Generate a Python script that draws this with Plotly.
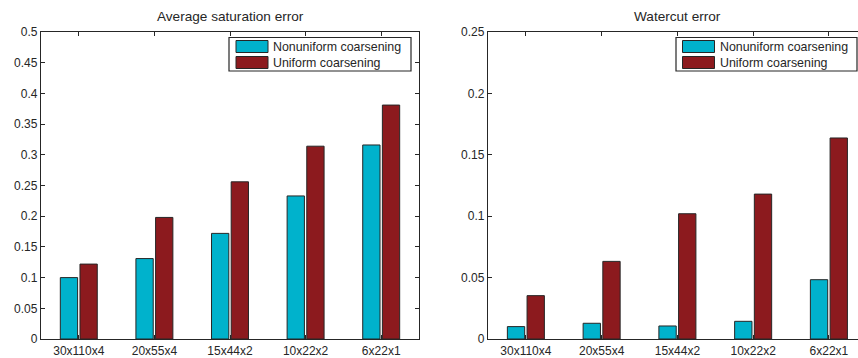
import plotly.graph_objects as go

categories = ["30x110x4", "20x55x4", "15x44x2", "10x22x2", "6x22x1"]
sat_nonuniform = [0.100, 0.131, 0.172, 0.233, 0.316]
sat_uniform = [0.122, 0.198, 0.256, 0.314, 0.381]
wc_nonuniform = [0.0101, 0.0128, 0.0106, 0.0144, 0.0483]
wc_uniform = [0.0353, 0.0632, 0.102, 0.118, 0.1637]
series_names = ["Nonuniform coarsening", "Uniform coarsening"]
titles = ["Average saturation error", "Watercut error"]

W, H = 858, 358
CYAN = "#00B2CC"
RED = "#8C1A1E"
INK = "#262626"
FONT = "Liberation Sans, Arial, Helvetica, sans-serif"


def px_x(p):
    return p / W


def px_y(p):
    return 1 - p / H


fig = go.Figure()
for i, (xs, ya) in enumerate([("x", "y"), ("x2", "y2")]):
    nu = sat_nonuniform if i == 0 else wc_nonuniform
    un = sat_uniform if i == 0 else wc_uniform
    fig.add_trace(go.Bar(x=categories, y=nu, name=series_names[0], xaxis=xs, yaxis=ya,
                         marker=dict(color=CYAN, line=dict(color=INK, width=1)),
                         offsetgroup="a", showlegend=False))
    fig.add_trace(go.Bar(x=categories, y=un, name=series_names[1], xaxis=xs, yaxis=ya,
                         marker=dict(color=RED, line=dict(color=INK, width=1)),
                         offsetgroup="b", showlegend=False))

ydom = [px_y(339), px_y(32)]
axis_common = dict(showline=True, linecolor=INK, linewidth=1.3, ticks="inside", ticklen=4,
                   tickcolor=INK, showgrid=False, zeroline=False, automargin=False,
                   tickfont=dict(family=FONT, size=12, color=INK))

fig.update_layout(
    width=W, height=H, margin=dict(l=0, r=0, t=0, b=0, pad=0, autoexpand=False),
    paper_bgcolor="white", plot_bgcolor="white",
    barmode="group", bargap=0.48, bargroupgap=0.12,
    font=dict(family=FONT, color=INK),
    xaxis=dict(domain=[px_x(41), px_x(419)], type="category", range=[-0.5, 4.5],
               mirror="ticks", anchor="y", **axis_common),
    yaxis=dict(domain=ydom, range=[0, 0.5], dtick=0.05, mirror="ticks", anchor="x",
               **axis_common),
    xaxis2=dict(domain=[px_x(488), 1], type="category", range=[-0.5, 4.384],
                mirror="ticks", anchor="y2", **axis_common),
    yaxis2=dict(domain=ydom, range=[0, 0.25], dtick=0.05, mirror=False, anchor="x2",
                **axis_common),
)

annotations = []
shapes = []
# titles
for cx, t in zip([230, 677], titles):
    annotations.append(dict(x=px_x(cx), y=px_y(17), xref="paper", yref="paper", text=t,
                            showarrow=False, font=dict(family=FONT, size=13.6, color=INK),
                            xanchor="center", yanchor="middle"))

# manual legends (box, swatches, labels)
for (bx0, bx1, sx0) in [(229, 411, 236), (676, 857, 682.5)]:
    shapes.append(dict(type="rect", xref="paper", yref="paper",
                       x0=px_x(bx0), x1=px_x(bx1), y0=px_y(37.5), y1=px_y(71),
                       line=dict(color=INK, width=1.2), fillcolor="white", layer="above"))
    for k, (col, name) in enumerate(zip([CYAN, RED], series_names)):
        top = 40.5 + k * 16
        shapes.append(dict(type="rect", xref="paper", yref="paper",
                           x0=px_x(sx0), x1=px_x(sx0 + 32), y0=px_y(top), y1=px_y(top + 12),
                           line=dict(color=INK, width=1), fillcolor=col, layer="above"))
        annotations.append(dict(x=px_x(sx0 + 35), y=px_y(top + 6), xref="paper", yref="paper",
                                text=name, showarrow=False, xanchor="left", yanchor="middle",
                                font=dict(family=FONT, size=12.4, color=INK)))

fig.update_layout(annotations=annotations, shapes=shapes)
fig.write_html("out.html", config={"displayModeBar": False},
               post_script="document.body.style.margin='0';document.body.style.padding='0';"
                           "document.body.style.overflow='hidden';"
                           "document.documentElement.style.overflow='hidden';")
